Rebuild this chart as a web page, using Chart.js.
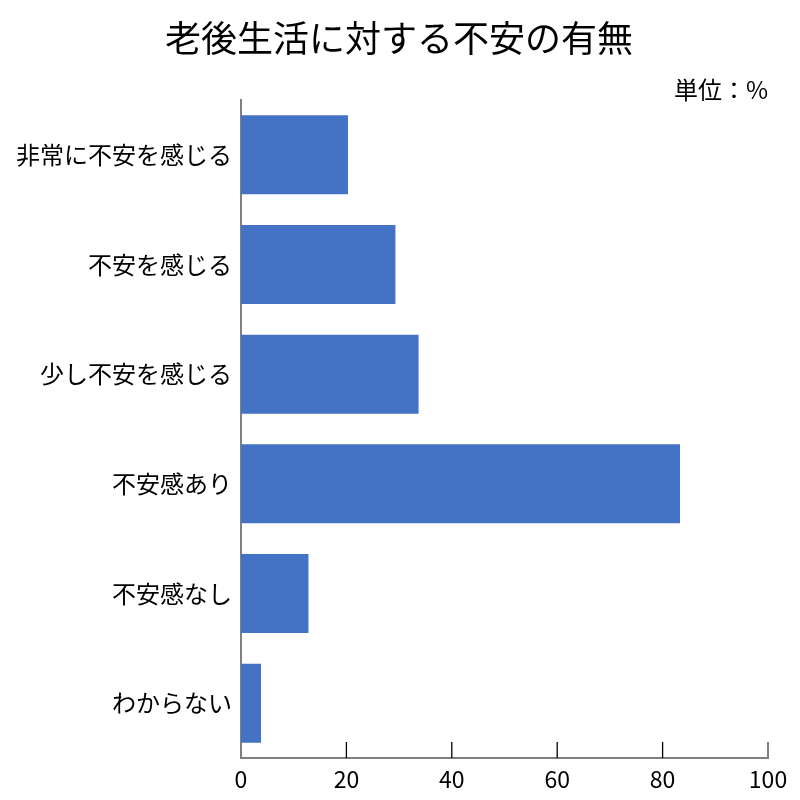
<!DOCTYPE html>
<html><head><meta charset="utf-8">
<script src="https://cdn.jsdelivr.net/npm/chart.js@4/dist/chart.umd.min.js"></script>
<style>html,body{margin:0;padding:0;background:#fff}#wrap{width:800px;height:800px}</style>
</head><body><div id="wrap"><canvas id="c" width="800" height="800"></canvas></div>
<script>
const titleText = '老後生活に対する不安の有無';
const unitText = '単位：%';
const categories = ['非常に不安を感じる','不安を感じる','少し不安を感じる','不安感あり','不安感なし','わからない'];
const values = [20.3, 29.3, 33.7, 83.3, 12.8, 3.8];
const xTicks = [0, 20, 40, 60, 80, 100];
const FONT = '"Noto Sans CJK JP", "Noto Sans", sans-serif';

const decor = {
  id: 'decor',
  afterDatasetsDraw(chart) {
    const ctx = chart.ctx, xs = chart.scales.x, ca = chart.chartArea;
    ctx.save();
    xTicks.forEach(v => {
      if (v === 0) return;
      const px = xs.getPixelForValue(v);
      ctx.beginPath();
      ctx.strokeStyle = v === 100 ? '#808080' : '#000';
      ctx.lineWidth = v === 100 ? 2 : 1.3;
      ctx.moveTo(px, ca.bottom);
      ctx.lineTo(px, ca.bottom - 16);
      ctx.stroke();
    });
    ctx.fillStyle = '#000';
    ctx.textBaseline = 'middle';
    ctx.font = '36px ' + FONT;
    ctx.textAlign = 'center';
    ctx.fillText(titleText, 399, 38);
    ctx.font = '24px ' + FONT;
    ctx.textAlign = 'right';
    ctx.fillText(unitText, ca.right, 90);
    ctx.restore();
  }
};

new Chart(document.getElementById('c'), {
  type: 'bar',
  data: { labels: categories, datasets: [{ data: values, backgroundColor: '#4472C4', borderWidth: 0, categoryPercentage: 1, barPercentage: 0.72 }] },
  options: {
    indexAxis: 'y', responsive: false, animation: false,
    layout: { padding: { left: 0, right: 32, top: 100, bottom: 0 } },
    plugins: {
      legend: { display: false }, tooltip: { enabled: false }, title: { display: false }
    },
    scales: {
      x: {
        min: 0, max: 100,
        afterBuildTicks(s) { s.ticks = xTicks.map(v => ({ value: v })); },
        afterFit(s) { s.height = 42; },
        grid: { display: false, drawTicks: false },
        border: { color: '#808080', width: 2 },
        ticks: { color: '#000', font: { family: FONT, size: 23 }, padding: 7, maxRotation: 0 }
      },
      y: {
        afterFit(s) { s.width = 241; },
        grid: { display: false, drawTicks: false },
        border: { color: '#808080', width: 2 },
        ticks: { color: '#000', font: { family: FONT, size: 24 }, padding: 9 }
      }
    }
  },
  plugins: [decor]
});
</script></body></html>
